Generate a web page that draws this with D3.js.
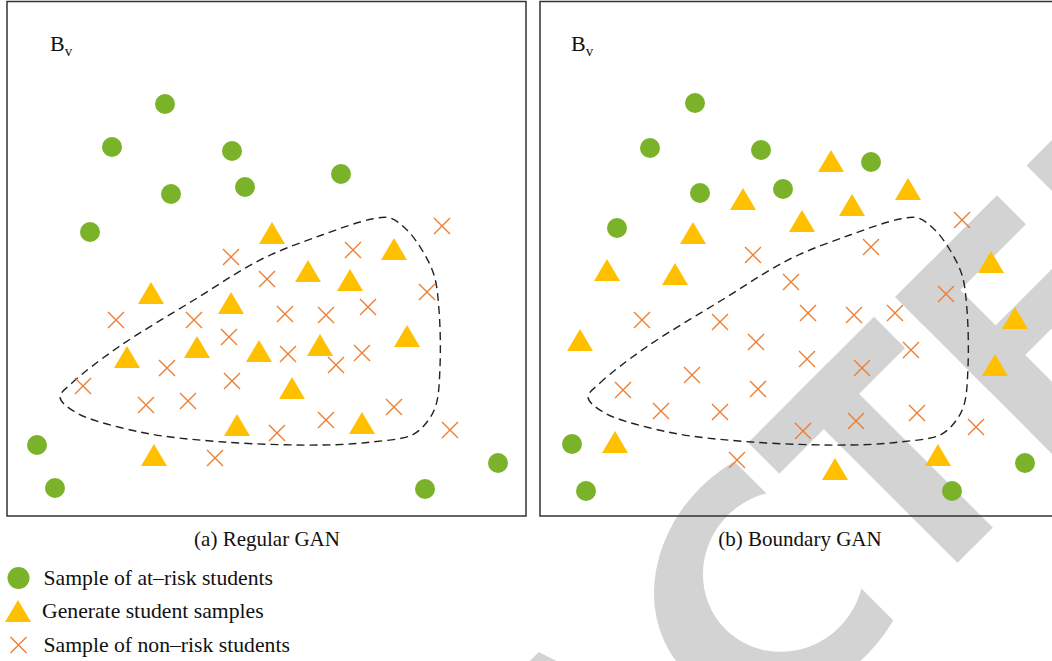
<!DOCTYPE html>
<html><head><meta charset="utf-8">
<script src="https://cdn.jsdelivr.net/npm/d3@7"></script>
<style>html,body{margin:0;padding:0;background:#fff;} svg{display:block;}</style>
</head><body><svg id="chart" width="1052" height="661"></svg>
<script>
// ---- data (panel-local units: x from panel's left edge, y from top) ----
const panels = ["(a) Regular GAN", "(b) Boundary GAN"];
const legendLabels = ["Sample of at\u2013risk students", "Generate student samples", "Sample of non\u2013risk students"];

const regularAtRisk = [[158,104],[105,147],[225,151],[164,194],[238,187],[334,174],[83,232],[30,445],[48,488],[418,489],[491,463]];
const regularGenerated = [[265,233],[387,249],[301,271],[343,280],[144,293],[224,303],[190,347],[120,357],[252,351],[313,345],[400,336],[285,388],[230,425],[355,423],[147,455]];
const regularNonRisk = [[435,226],[346,250],[224,257],[260,279],[420,292],[109,320],[187,320],[361,307],[278,314],[319,315],[222,337],[160,368],[281,354],[355,353],[329,365],[76,386],[225,381],[139,405],[181,401],[387,407],[319,420],[270,433],[443,430],[208,458]];
const regularBoundary = [[53,397],[65,383],[110,348],[187,300],[255,259],[315,235],[365,219],[383,218],[400,230],[415,250],[427,275],[432,310],[433,367],[429,405],[420,422],[405,435],[365,442],[317,445],[217,442],[133,432],[68,412]];

const boundaryAtRisk = [[155,103],[110,148],[221,150],[160,193],[243,189],[331,162],[77,228],[32,444],[46,491],[412,491],[485,463]];
const boundaryGenerated = [[291,161],[203,199],[368,189],[312,205],[262,221],[153,233],[67,270],[135,274],[40,340],[451,262],[475,318],[455,365],[75,442],[398,455],[295,469]];
const boundaryNonRisk = [[422,220],[331,247],[213,255],[251,282],[406,294],[102,320],[180,322],[268,313],[314,315],[355,313],[216,342],[371,350],[267,359],[322,368],[152,375],[83,390],[218,389],[121,411],[180,412],[316,421],[377,413],[263,431],[436,427],[197,460]];
const boundaryBoundary = [[48,397],[60,383],[105,348],[182,300],[250,259],[310,235],[360,219],[378,218],[395,230],[410,250],[422,275],[427,310],[428,367],[424,405],[415,422],[400,435],[360,442],[312,445],[212,442],[128,432],[63,412]];

// watermark letter strokes in the rotated frame: [a0, a1, b0, b1]
const watermarkBars = [
  [216,394,842,886],[279,329,842,1075],                       // T
  [423,474,843,1075],[423,567,843,884],[423,555,934,976],[423,575,1033,1075], // E
  [609,660,843,1075],[609,700,843,885]                         // D
];
const watermarkA = [[-135,842],[-80,842],[-5,1075],[-210,1075]];
const watermarkC = { a: 150, b: 958, rxOut: 140, ryOut: 118, rxIn: 82, ryIn: 79, cut: 193 };

// ---- styles ----
const GREEN = "#7ab32a", YELLOW = "#ffc000", ORANGE = "#ed7d31", GRAY = "#d3d3d3";
const SERIF = "'Liberation Serif', 'Times New Roman', serif";

const svg = d3.select("#chart");
svg.append("rect").attr("width", 1052).attr("height", 661).attr("fill", "#fff");

// watermark
const wm = svg.append("g").attr("transform", "rotate(-45)").attr("fill", GRAY);
wm.selectAll(".bar").data(watermarkBars).join("rect")
  .attr("x", d => d[0]).attr("y", d => d[2]).attr("width", d => d[1] - d[0]).attr("height", d => d[3] - d[2]);
wm.append("path").attr("d", d3.line()(watermarkA) + "Z");
svg.append("defs").append("clipPath").attr("id", "cclip")
  .append("rect").attr("x", -100).attr("y", 700).attr("width", watermarkC.cut + 100).attr("height", 500);
const C = watermarkC;
const ell = (rx, ry) => `M${C.a - rx},${C.b}a${rx},${ry} 0 1,0 ${2*rx},0a${rx},${ry} 0 1,0 ${-2*rx},0Z`;
wm.append("path").attr("d", ell(C.rxOut, C.ryOut) + ell(C.rxIn, C.ryIn))
  .attr("fill-rule", "evenodd").attr("clip-path", "url(#cclip)");

const triType = { draw(ctx, size) { const w = size, h = size * 0.85; ctx.moveTo(0, -h/2); ctx.lineTo(w/2, h/2); ctx.lineTo(-w/2, h/2); ctx.closePath(); } };
const crossType = { draw(ctx, size) { const s = size/2; ctx.moveTo(-s, -s); ctx.lineTo(s, s); ctx.moveTo(-s, s); ctx.lineTo(s, -s); } };

const panelDefs = [
  { left: 7, width: 519, atRisk: regularAtRisk, gen: regularGenerated, non: regularNonRisk, bnd: regularBoundary, capX: 267, bx: 50 },
  { left: 540, width: 530, atRisk: boundaryAtRisk, gen: boundaryGenerated, non: boundaryNonRisk, bnd: boundaryBoundary, capX: 800, bx: 571 }
];

panelDefs.forEach((p, i) => {
  const x = d3.scaleLinear().domain([0, 520]).range([p.left, p.left + 520]);
  const y = d3.scaleLinear().domain([0, 516]).range([0, 516]);
  const g = svg.append("g");
  g.append("path")
    .attr("d", d3.line().x(d => x(d[0])).y(d => y(d[1])).curve(d3.curveCatmullRomClosed.alpha(0.5))(p.bnd))
    .attr("fill", "none").attr("stroke", "#222").attr("stroke-width", 1.4).attr("stroke-dasharray", "8,5");
  g.selectAll(".c").data(p.atRisk).join("circle")
    .attr("cx", d => x(d[0])).attr("cy", d => y(d[1])).attr("r", 10).attr("fill", GREEN);
  g.selectAll(".t").data(p.gen).join("path")
    .attr("transform", d => `translate(${x(d[0])},${y(d[1])})`)
    .attr("d", d3.symbol(triType, 26)).attr("fill", YELLOW);
  g.selectAll(".x").data(p.non).join("path")
    .attr("transform", d => `translate(${x(d[0])},${y(d[1])})`)
    .attr("d", d3.symbol(crossType, 16)).attr("fill", "none").attr("stroke", ORANGE).attr("stroke-width", 1.4);
  g.append("rect").attr("x", p.left).attr("y", 1.5).attr("width", p.width).attr("height", 514.5)
    .attr("fill", "none").attr("stroke", "#333").attr("stroke-width", 1.5);
  const bt = g.append("text").attr("x", p.bx).attr("y", 51).attr("font-family", SERIF).attr("font-size", 22).attr("fill", "#111");
  bt.append("tspan").text("B");
  bt.append("tspan").attr("font-size", 15).attr("dy", 5).text("v");
  g.append("text").attr("x", p.capX).attr("y", 546).attr("text-anchor", "middle")
    .attr("font-family", SERIF).attr("font-size", 21).attr("fill", "#111").text(panels[i]);
});

const leg = svg.append("g");
const ly = [578, 611, 645];
leg.append("circle").attr("cx", 18.5).attr("cy", ly[0]).attr("r", 11).attr("fill", GREEN);
leg.append("path").attr("transform", `translate(18,${ly[1]})`).attr("d", d3.symbol(triType, 26)).attr("fill", YELLOW);
leg.append("path").attr("transform", `translate(18.5,${ly[2]})`).attr("d", d3.symbol(crossType, 16)).attr("fill", "none").attr("stroke", ORANGE).attr("stroke-width", 1.4);
legendLabels.forEach((t, i) => {
  leg.append("text").attr("x", i === 1 ? 42 : 43.5).attr("y", ly[i] + 7).attr("font-family", SERIF)
    .attr("font-size", 21.7).attr("fill", "#111").text(t);
});
</script></body></html>
